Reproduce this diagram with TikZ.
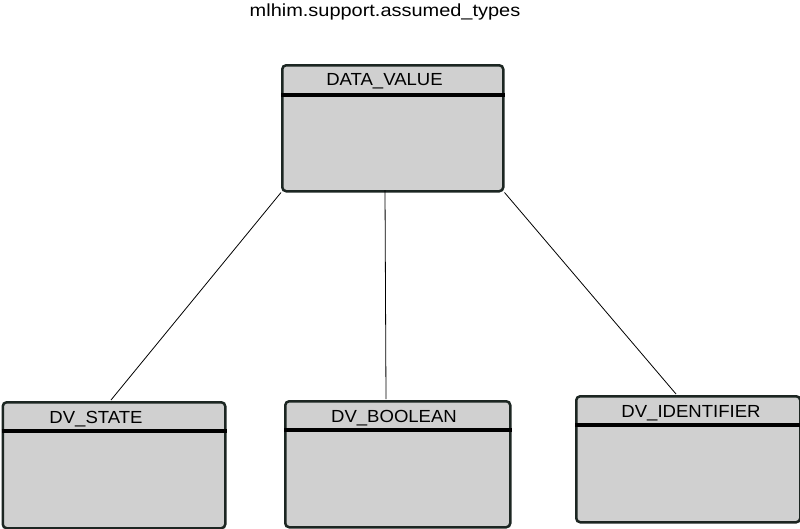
\documentclass[tikz,border=0pt]{standalone}
\usepackage{fontspec}
\setmainfont{Liberation Sans}
\definecolor{boxfill}{HTML}{D0D0D0}
\definecolor{boxborder}{HTML}{1C2622}
\begin{document}
\begin{tikzpicture}[x=1pt,y=-1pt,
  cls/.style={draw=boxborder, fill=boxfill, line width=2.5pt, rounded corners=4pt,
    anchor=north west, inner sep=0pt, minimum height=126pt},
  hdr/.style={line width=4pt, black},
  lbl/.style={anchor=base, font=\fontsize{17.5}{20}\selectfont, inner sep=0pt},
  conn/.style={line width=0.8pt, black}]
\useasboundingbox (0,0) rectangle (800,528);
\fill[white] (0,0) rectangle (800,528);
\node[anchor=base, font=\fontsize{17.5}{20}\selectfont, inner sep=0pt] (title) at (385,16.5) {\scalebox{1.14}[1]{mlhim.support.assumed\_types}};

\node[cls, minimum width=221pt] (dv) at (281,64) {};
\node[cls, minimum width=222.5pt] (st) at (1.5,401) {};
\node[cls, minimum width=225pt] (bo) at (284,400) {};
\node[cls, minimum width=224pt] (id) at (575,395) {};

\draw[hdr] ([yshift=-30.5pt]dv.north west) -- ([yshift=-30.5pt]dv.north east);
\draw[hdr] ([yshift=-30pt]st.north west) -- ([yshift=-30pt]st.north east);
\draw[hdr] ([yshift=-30pt]bo.north west) -- ([yshift=-30pt]bo.north east);
\draw[hdr] ([yshift=-29.5pt]id.north west) -- ([yshift=-29.5pt]id.north east);

\node[lbl] (dvl) at (384.5,85) {\scalebox{1.06}[1]{DATA\_VALUE}};
\node[lbl] (stl) at (96,423) {\scalebox{1.06}[1]{DV\_STATE}};
\node[lbl] (bol) at (394,422) {\scalebox{1.06}[1]{DV\_BOOLEAN}};
\node[lbl] (idl) at (691,417) {\scalebox{1.06}[1]{DV\_IDENTIFIER}};

\coordinate (dvm) at (385,190);
\coordinate (stt) at (111,400);
\coordinate (bot) at (386,399);
\coordinate (idt) at (676,394);
\draw[conn] (dv.south west) -- (stt);
\draw[conn] (dvm) -- (bot);
\draw[conn] (dv.south east) -- (idt);
\end{tikzpicture}
\end{document}
